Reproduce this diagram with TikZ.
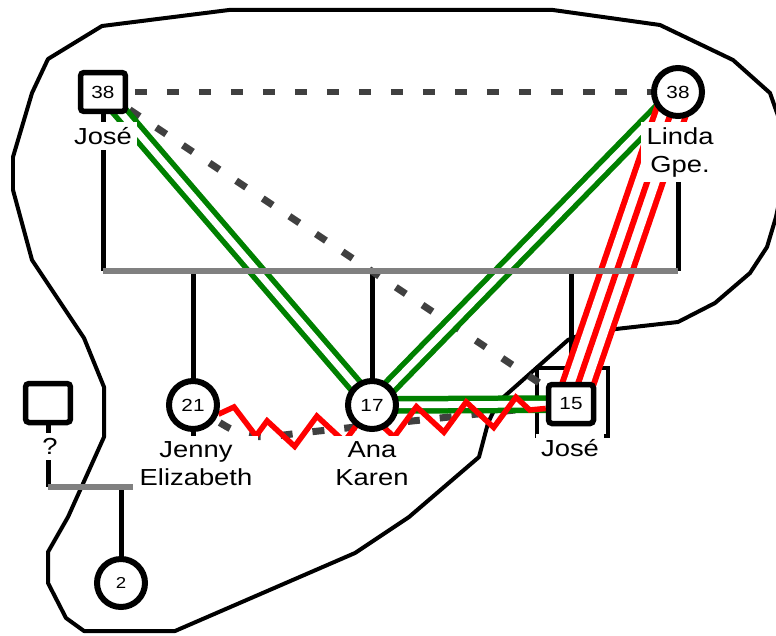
\documentclass[tikz,border=0pt]{standalone}
\usepackage{fontspec}
\setmainfont{Liberation Sans}[FakeStretch=1.18]
\definecolor{TieGreen}{RGB}{0,128,0}
\definecolor{TieRed}  {RGB}{255,0,0}
\definecolor{DashGray}{RGB}{64,64,64}
\definecolor{SibGray} {RGB}{128,128,128}
\usetikzlibrary{backgrounds,decorations.pathmorphing}

\begin{document}
\begin{tikzpicture}[x=0.02cm,y=-0.02cm,
    every node/.style={font=\fontsize{13.2}{15.9}\selectfont},
    male/.style={draw,fill=white,line width=0.11cm,rounded corners=2pt,
      minimum width=0.9cm,minimum height=0.78cm,inner sep=0pt,
      font=\fontsize{10}{12}\selectfont},
    female/.style={circle,draw,fill=white,line width=0.12cm,
      minimum size=0.96cm,inner sep=0pt,font=\fontsize{10}{12}\selectfont},
    who/.style={fill=white,inner sep=3pt,align=center,anchor=north},
    famline/.style={line width=0.1cm},
    sibline/.style={draw=SibGray,line width=0.12cm},
    tiedash/.style={draw=DashGray,line width=0.14cm,
      dash pattern=on 0.24cm off 0.4cm},
    closetie/.style={draw=TieGreen,line width=0.11cm,
      double=white,double distance=0.135cm},
    hostile/.style={draw=TieRed,line width=0.12cm,
      double=white,double distance=0.48cm},
    conflict/.style={draw=TieRed,line width=0.11cm},
    zz/.style={decoration={zigzag,segment length=1cm,amplitude=0.28cm}},
    household/.style={line width=0.08cm}]
  \useasboundingbox (0,0) rectangle (776,635);

  %% People
  \node[male]   (jose38)  at (103,92)  {38};
  \node[female] (linda)   at (678,92)  {38};
  \node[female] (jenny)   at (193,405) {21};
  \node[female] (ana)     at (372,405) {17};
  \node[male]   (jose15)  at (571,404) {15};
  \node[male]   (unknown) at (48,403)  {};
  \node[female,font=\fontsize{9}{11}\selectfont] (baby) at (121,583) {2};

  \coordinate (sib)    at (0,271);
  \coordinate (union)  at (0,487);
  \coordinate (unionR) at (133,487);
  \coordinate (zig1)   at (234,407);
  \coordinate (zig2)   at (256,436);

  \begin{scope}[on background layer]
    %% Household boundary
    \draw[household,line join=round]
      (229,10) -- (553,10) -- (660,25) -- (733,60) -- (770,93)
      -- (790,150) -- (776,217) -- (767,247) -- (750,273) -- (715,303)
      -- (678,322) -- (607,330) -- (580,335) -- (568,340) -- (498,402)
      -- (488,423) -- (479,457) -- (409,517) -- (355,553) -- (175,631)
      -- (84,631) -- (66,618) -- (48,583) -- (48,552) -- (68,517)
      -- (104,437) -- (104,387) -- (84,338) -- (32,260) -- (13,190)
      -- (13,157) -- (32,93) -- (48,59) -- (102,26) -- cycle;
    \draw[household] (jose15.center) ++(-34,-36) rectangle ++(71,68);

    %% Family lines
    \foreach \p in {jose38,linda,jenny,ana,jose15}
      \draw[famline] (\p.center) -- (\p |- sib);
    \draw[famline] (jenny.center) -- ++(0,38);
    \draw[famline] (unknown.center) -- (unknown |- union);
    \draw[famline] (baby.center) -- (baby |- union);

    %% Distant ties
    \draw[tiedash] (jose38.center) -- (linda.center);
    \draw[tiedash] (jose38.center) -- (jose15.center);
    \draw[tiedash] (jenny.center) .. controls (245,440) .. (300,433)
      -- (jose15.center);

    %% Close ties
    \foreach \a/\b in {jose38/ana,linda/ana,ana/jose15}
      \draw[closetie] (\a.center) -- (\b.center);

    %% Hostile and conflicted ties
    \draw[hostile] (linda.center) -- (jose15.center);
    \draw[TieRed,line width=0.12cm] (linda.center) -- (jose15.center);
    \draw[conflict] (jenny.-20) -- (zig1) -- (zig2)
      decorate[zz] {-- (jose15.-170)};

    %% Sibling and union lines
    \draw[sibline] (jose38 |- sib) -- (linda |- sib);
    \draw[sibline] (unknown |- union) -- (unionR);
  \end{scope}

  %% Names
  \node[who] (jose38name)  at (103,122) {José};
  \node[who] (lindaname)   at (680,122) {Linda\\Gpe.};
  \node[who] (jennyname)   at (196,436) {Jenny\\Elizabeth};
  \node[who] (ananame)     at (372,436) {Ana\\Karen};
  \node[who] (jose15name)  at (570,434) {José};
  \node[who] (unknownname) at (50,433)  {?};
\end{tikzpicture}
\end{document}
